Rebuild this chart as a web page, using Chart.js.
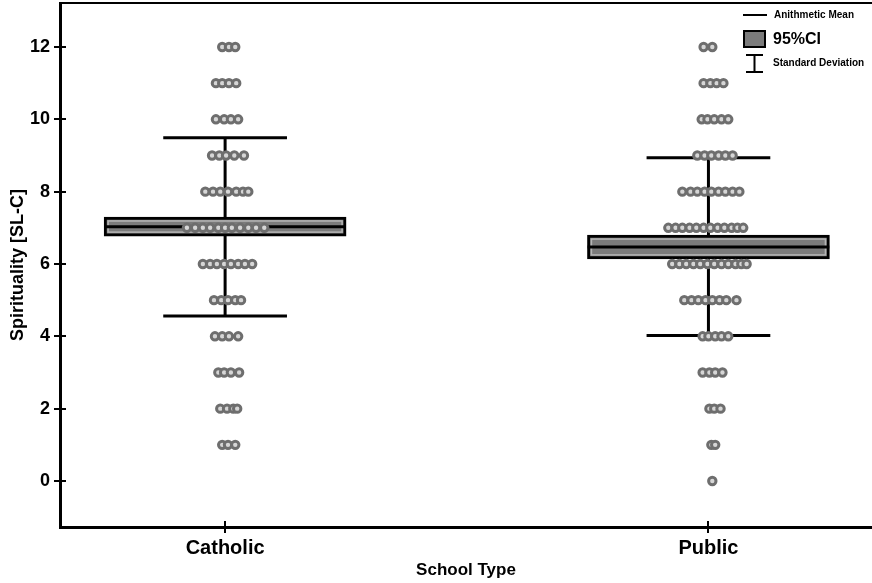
<!DOCTYPE html>
<html>
<head>
<meta charset="utf-8">
<script src="https://cdn.jsdelivr.net/npm/chart.js@4.4.1/dist/chart.umd.min.js"></script>
<style>
  html, body { margin: 0; padding: 0; background: #fff; }
  #wrap { width: 872px; height: 583px; position: relative; }
</style>
</head>
<body>
<div id="wrap"><canvas id="c" width="872" height="583"></canvas></div>
<script>
// ---- data ----
const categories = ['Catholic', 'Public'];
const means  = [7.03, 6.47];
const ciLow  = [6.77, 6.14];
const ciHigh = [7.30, 6.80];
const sdLow  = [4.56, 4.02];
const sdHigh = [9.49, 8.94];
const yTicks = [0, 2, 4, 6, 8, 10, 12];

// individual scores: [score, horizontal jitter offsets (category units)]
const catholicDots = [
  [12, [-0.006, 0.008, 0.021]],
  [11, [-0.019, -0.006, 0.008, 0.023]],
  [10, [-0.019, -0.002, 0.012, 0.027]],
  [9,  [-0.027, -0.012, 0.002, 0.019, 0.039]],
  [8,  [-0.041, -0.025, -0.010, 0.006, 0.023, 0.037, 0.048]],
  [7,  [-0.079, -0.062, -0.046, -0.031, -0.014, 0, 0.014, 0.031, 0.048, 0.064, 0.081]],
  [6,  [-0.046, -0.031, -0.017, -0.002, 0.012, 0.027, 0.041, 0.056]],
  [5,  [-0.023, -0.008, 0.006, 0.021, 0.033]],
  [4,  [-0.021, -0.006, 0.008, 0.027]],
  [3,  [-0.014, -0.002, 0.012, 0.029]],
  [2,  [-0.010, 0.004, 0.017, 0.025]],
  [1,  [-0.006, 0.006, 0.021]]
];
const publicDots = [
  [12, [-0.010, 0.008]],
  [11, [-0.010, 0.004, 0.017, 0.031]],
  [10, [-0.014, -0.002, 0.012, 0.027, 0.041]],
  [9,  [-0.023, -0.008, 0.006, 0.021, 0.035, 0.050]],
  [8,  [-0.054, -0.037, -0.023, -0.008, 0.006, 0.021, 0.035, 0.050, 0.064]],
  [7,  [-0.083, -0.068, -0.054, -0.039, -0.025, -0.010, 0.004, 0.019, 0.033, 0.048, 0.060, 0.072]],
  [6,  [-0.075, -0.060, -0.046, -0.031, -0.017, -0.002, 0.012, 0.027, 0.041, 0.056, 0.068, 0.079]],
  [5,  [-0.050, -0.035, -0.021, -0.006, 0.008, 0.023, 0.037, 0.058]],
  [4,  [-0.012, 0, 0.014, 0.027, 0.041]],
  [3,  [-0.012, 0.002, 0.014, 0.029]],
  [2,  [0.002, 0.012, 0.025]],
  [1,  [0.006, 0.014]],
  [0,  [0.008]]
];

// ---- style constants ----
const BOX_HALF = 0.25;   // half-width of CI box, category units
const CAP_HALF = 0.128;  // half-width of SD caps
const BOX_PX = 242;
const FONT = 'Liberation Sans, Arial, sans-serif';

const dotSets = [catholicDots, publicDots];

function dotPoints(ci) {
  const pts = [];
  dotSets[ci].forEach(([score, offs]) => offs.forEach(o => pts.push({ x: ci + o, y: score })));
  return pts;
}
function whiskerPoints(ci) {
  return [
    { x: ci - CAP_HALF, y: sdHigh[ci] }, { x: ci + CAP_HALF, y: sdHigh[ci] }, { x: ci, y: null },
    { x: ci, y: sdHigh[ci] }, { x: ci, y: sdLow[ci] }, { x: ci + CAP_HALF, y: null },
    { x: ci - CAP_HALF, y: sdLow[ci] }, { x: ci + CAP_HALF, y: sdLow[ci] }
  ];
}
function meanPoints() {
  const pts = [];
  categories.forEach((c, i) => {
    pts.push({ x: i - BOX_HALF, y: means[i] }, { x: i + BOX_HALF, y: means[i] }, { x: i + BOX_HALF + 0.01, y: null });
  });
  return pts;
}

const datasets = [];
categories.forEach((c, i) => {
  datasets.push({
    type: 'line', label: 'sd' + i, data: whiskerPoints(i), borderColor: '#000', borderWidth: 3,
    pointRadius: 0, spanGaps: false, order: 5, borderCapStyle: 'butt'
  });
});
datasets.push({
  type: 'bar', label: 'ci',
  data: categories.map((c, i) => ({ x: i, y: [ciLow[i], ciHigh[i]] })),
  backgroundColor: '#7b7b7b', borderColor: '#000', borderWidth: 3, borderSkipped: false,
  barThickness: BOX_PX, grouped: false, order: 4
});
datasets.push({
  type: 'line', label: 'mean', data: meanPoints(), borderColor: '#000', borderWidth: 3,
  pointRadius: 0, spanGaps: false, order: 3
});
categories.forEach((c, i) => {
  datasets.push({
    type: 'scatter', label: 'dots' + i, data: dotPoints(i),
    pointRadius: 3.7, borderWidth: 3, borderColor: '#6e6e6e', backgroundColor: '#d6d6d6',
    pointHoverRadius: 3.7, order: 1
  });
});

// inner light stripes in CI boxes (drawn right after the bar dataset)
const boxStripes = {
  id: 'boxStripes',
  afterDatasetDraw(chart, args) {
    if (chart.data.datasets[args.index].label !== 'ci') return;
    const ctx = chart.ctx;
    ctx.save();
    args.meta.data.forEach(bar => {
      const p = bar.getProps(['x', 'y', 'base', 'width'], true);
      const top = Math.min(p.y, p.base), bot = Math.max(p.y, p.base);
      ctx.strokeStyle = '#b4b4b4';
      ctx.lineWidth = 1.5;
      ctx.strokeRect(p.x - p.width / 2 + 4, top + 4, p.width - 8, bot - top - 8);
    });
    ctx.restore();
  }
};

// inner half of the tick marks (ticks cross the axis)
const innerTicks = {
  id: 'innerTicks',
  afterDraw(chart) {
    const ctx = chart.ctx, a = chart.chartArea;
    ctx.save();
    ctx.strokeStyle = '#000';
    ctx.lineWidth = 2;
    const ys = chart.scales.y;
    ys.ticks.forEach((t, i) => {
      const py = Math.round(ys.getPixelForTick(i));
      ctx.beginPath(); ctx.moveTo(a.left, py); ctx.lineTo(a.left + 6, py); ctx.stroke();
    });
    const xs = chart.scales.x;
    xs.ticks.forEach((t, i) => {
      const px = Math.round(xs.getPixelForTick(i));
      ctx.beginPath(); ctx.moveTo(px, a.bottom); ctx.lineTo(px, a.bottom - 6); ctx.stroke();
    });
    ctx.restore();
  }
};

// legend
const legendBox = {
  id: 'legendBox',
  afterDraw(chart) {
    const ctx = chart.ctx;
    ctx.save();
    ctx.fillStyle = '#000';
    ctx.strokeStyle = '#000';
    ctx.textBaseline = 'middle';
    ctx.textAlign = 'left';
    ctx.lineWidth = 2;
    ctx.beginPath(); ctx.moveTo(743, 15); ctx.lineTo(767, 15); ctx.stroke();
    ctx.font = 'bold 10px ' + FONT;
    ctx.fillText('Anithmetic Mean', 774, 15);
    ctx.fillStyle = '#7b7b7b';
    ctx.fillRect(744, 31, 21, 16);
    ctx.lineWidth = 2;
    ctx.strokeRect(744, 31, 21, 16);
    ctx.fillStyle = '#000';
    ctx.font = 'bold 16px ' + FONT;
    ctx.fillText('95%CI', 773, 40);
    ctx.lineWidth = 2;
    ctx.beginPath();
    ctx.moveTo(746, 55); ctx.lineTo(763, 55);
    ctx.moveTo(754.5, 55); ctx.lineTo(754.5, 72);
    ctx.moveTo(746, 72); ctx.lineTo(763, 72);
    ctx.stroke();
    ctx.font = 'bold 10px ' + FONT;
    ctx.fillText('Standard Deviation', 773, 63);
    ctx.restore();
  }
};

function noPad(s) { s.paddingTop = 0; s.paddingBottom = 0; s.paddingLeft = 0; s.paddingRight = 0; }

Chart.defaults.font.family = FONT;
Chart.defaults.color = '#000';

new Chart(document.getElementById('c'), {
  type: 'scatter',
  data: { datasets },
  options: {
    responsive: false,
    animation: false,
    events: [],
    layout: { autoPadding: false, padding: { top: 3, right: 0, left: 0, bottom: 0 } },
    plugins: { legend: { display: false }, tooltip: { enabled: false } },
    scales: {
      x: {
        type: 'linear', min: -0.3416, max: 1.3384, offset: false,
        afterBuildTicks: s => { s.ticks = categories.map((c, i) => ({ value: i })); },
        afterFit: s => { s.height = 56; noPad(s); },
        ticks: { callback: v => categories[v], font: { size: 20, weight: 'bold' }, padding: 3, color: '#000', autoSkip: false, maxRotation: 0 },
        grid: { offset: false, drawOnChartArea: false, drawTicks: true, tickLength: 6, color: '#000', lineWidth: 2 },
        border: { color: '#000', width: 3 },
        title: { display: true, text: 'School Type', font: { size: 17, weight: 'bold' }, padding: { top: 0, bottom: 2 }, color: '#000' }
      },
      xTop: {
        type: 'linear', position: 'top', min: -0.3416, max: 1.3384, offset: false,
        afterFit: s => { s.height = 0; noPad(s); },
        ticks: { display: false },
        grid: { display: false, offset: false },
        border: { color: '#000', width: 2 }
      },
      y: {
        type: 'linear', min: -1.272, max: 13.216,
        afterBuildTicks: s => { s.ticks = yTicks.map(v => ({ value: v })); },
        afterFit: s => { s.width = 60; noPad(s); },
        ticks: { font: { size: 18, weight: 'bold' }, padding: 4, color: '#000' },
        grid: { drawOnChartArea: false, drawTicks: true, tickLength: 6, color: '#000', lineWidth: 2 },
        border: { color: '#000', width: 3 },
        title: { display: true, text: 'Spirituality [SL-C]', font: { size: 18, weight: 'bold' }, padding: { top: 7, bottom: 0 }, color: '#000' }
      }
    }
  },
  plugins: [boxStripes, innerTicks, legendBox]
});
</script>
</body>
</html>
